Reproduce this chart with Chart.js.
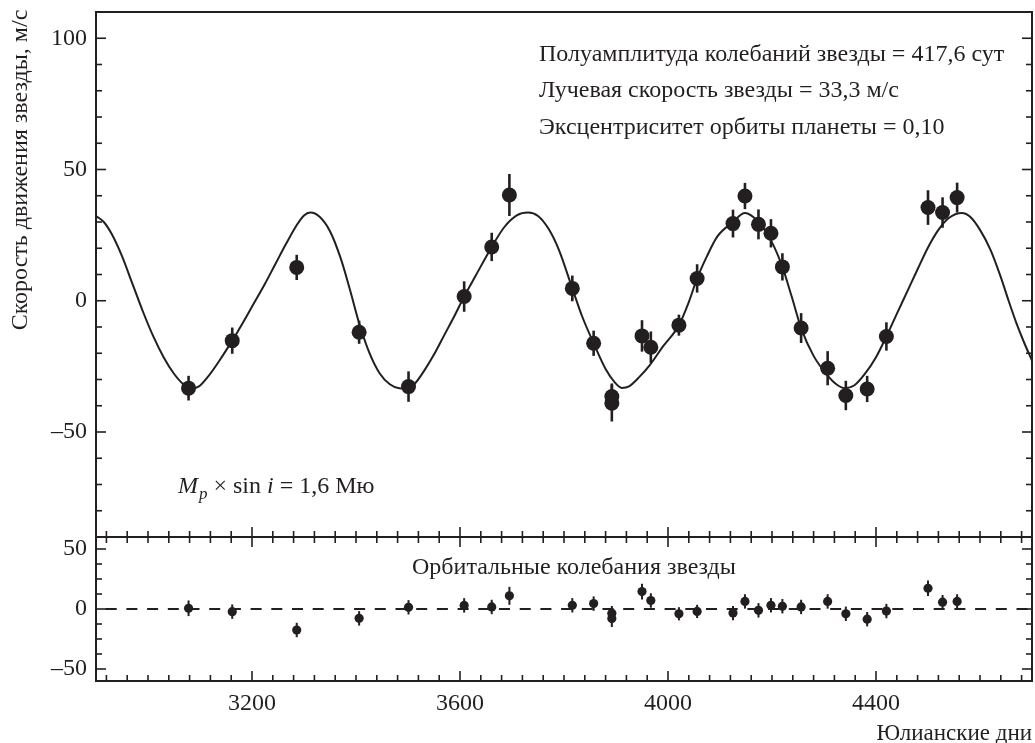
<!DOCTYPE html>
<html>
<head>
<meta charset="utf-8">
<script src="https://cdn.jsdelivr.net/npm/chart.js@4.4.1/dist/chart.umd.min.js"></script>
<style>
html,body{margin:0;padding:0;background:#fff;}
#wrap{position:relative;width:1035px;height:743px;}
canvas{display:block;}
</style>
</head>
<body>
<div id="wrap"><canvas id="c" width="1035" height="743"></canvas></div>
<script>
// ---- data ----
const obsDays = [3078, 3162, 3286, 3406, 3501, 3608, 3661, 3695, 3816, 3857, 3892, 3892, 3950, 3967, 4021, 4056, 4125, 4148, 4174, 4198, 4220, 4256, 4307, 4342, 4383, 4420, 4500, 4528, 4556];
const obsVel  = [-33.3, -15.2, 12.7, -12, -32.7, 1.6, 20.5, 40.3, 4.7, -16.2, -36.5, -39, -13.4, -17.7, -9.3, 8.5, 29.4, 39.9, 29.1, 25.7, 12.9, -10.4, -25.7, -36.1, -33.6, -13.6, 35.5, 33.6, 39.3];
const obsErr  = [4.7, 5, 4.8, 4.4, 5.8, 5.8, 5.4, 8, 4.9, 4.8, 5, 7, 6, 6, 4, 5.4, 5.3, 5, 5.7, 5.4, 5.2, 5.7, 6.5, 5.6, 5, 5.4, 6.6, 5.8, 5.7];

const resVel  = [0.6, -2.2, -17.5, -7.8, 1.4, 3, 1.7, 11, 3.1, 4.5, -3.5, -8, 14.5, 7.1, -4, -2, -3.4, 6.3, -1.1, 3.1, 2.3, 1.7, 6.3, -4, -8.5, -1.7, 17.3, 5.7, 6.3];
const resErr  = [6.5, 6, 6, 6, 6, 6, 6, 7.5, 6, 6, 6, 7, 6.5, 6, 5.5, 5.5, 6, 6, 6, 6, 6, 6, 6, 6, 6, 6, 6.5, 6, 6];

const curveDays = [2900, 2915, 2930, 2950, 2970, 2990, 3010, 3030, 3050, 3068, 3083, 3098, 3115, 3135, 3162, 3185, 3205, 3225, 3245, 3265, 3285, 3300, 3312, 3330, 3350, 3370, 3388, 3406, 3425, 3445, 3465, 3483, 3497, 3512, 3530, 3550, 3570, 3590, 3608, 3630, 3661, 3685, 3710, 3731, 3750, 3770, 3790, 3816, 3835, 3857, 3880, 3898, 3911, 3925, 3945, 3965, 3990, 4021, 4040, 4056, 4075, 4095, 4125, 4148, 4174, 4198, 4220, 4238, 4256, 4280, 4307, 4325, 4340, 4358, 4380, 4400, 4420, 4440, 4460, 4480, 4500, 4520, 4540, 4565, 4582, 4600, 4620, 4640, 4655, 4670, 4685, 4700];
const curveVel  = [32.3, 30, 25.5, 17, 6.5, -4, -13.5, -21.5, -27.8, -31.8, -33.4, -32.6, -29, -23.5, -15.2, -7.5, -0.5, 6.5, 14, 21.5, 28.5, 32.5, 33.6, 32, 26.5, 16.5, 4.5, -8.5, -19.5, -27.5, -31.8, -33.3, -33.4, -31.8, -27, -20.5, -13, -5.5, 1.6, 9.5, 20.5, 28, 32.6, 33.6, 32.3, 27.5, 19.5, 4.7, -6, -16.2, -26, -31.2, -33.2, -32.6, -29, -24.5, -17.5, -9.3, -0.5, 8.5, 17, 24.5, 30, 33.4, 30, 23, 12.9, 1.5, -10.4, -21, -28.5, -32, -33.3, -32.3, -27.5, -21.5, -13.6, -5, 3.5, 12, 20.3, 27, 31.5, 33.4, 31.8, 27, 19.5, 9, 0, -8.5, -16, -22.8];

const xTickLabels = [3200, 3600, 4000, 4400];
const yTopTicks = [100, 50, 0, -50];
const yBotTicks = [50, 0, -50];

const infoLines = [
  'Полуамплитуда колебаний звезды = 417,6 сут',
  'Лучевая скорость звезды = 33,3 м/с',
  'Эксцентриситет орбиты планеты = 0,10'
];
const residTitle = 'Орбитальные колебания звезды';
const yTitle = 'Скорость движения звезды, м/с';
const xTitle = 'Юлианские дни';

// ---- styling ----
const INK = '#231f20';
const FONT = 'Liberation Serif';
const FS = 24;
const fmt = v => (v < 0 ? '\u2013' + Math.abs(v) : String(v));

const toXY = (xs, ys) => xs.map((x, i) => ({x: x, y: ys[i]}));

const decor = {
  id: 'decor',
  afterDatasetsDraw(chart) {
    const ctx = chart.ctx;
    const sx = chart.scales.x, sy = chart.scales.y, sr = chart.scales.y2;
    ctx.save();
    ctx.strokeStyle = INK;
    ctx.lineCap = 'butt';
    ctx.beginPath();
    ctx.rect(sx.left, sy.top, sx.right - sx.left, sr.bottom - sy.top);
    ctx.clip();
    ctx.lineWidth = 2.6;
    obsDays.forEach((d, i) => {
      const px = sx.getPixelForValue(d);
      ctx.beginPath();
      ctx.moveTo(px, sy.getPixelForValue(obsVel[i] + obsErr[i]));
      ctx.lineTo(px, sy.getPixelForValue(obsVel[i] - obsErr[i]));
      ctx.stroke();
    });
    ctx.lineWidth = 2;
    obsDays.forEach((d, i) => {
      const px = sx.getPixelForValue(d);
      ctx.beginPath();
      ctx.moveTo(px, sr.getPixelForValue(resVel[i] + resErr[i]));
      ctx.lineTo(px, sr.getPixelForValue(resVel[i] - resErr[i]));
      ctx.stroke();
    });
    ctx.restore();
  },
  afterDraw(chart) {
    const ctx = chart.ctx;
    const sx = chart.scales.x, sy = chart.scales.y, sr = chart.scales.y2;
    const L = sx.left, R = sx.right;
    ctx.save();
    ctx.strokeStyle = INK;
    ctx.lineWidth = 2;
    ctx.strokeRect(L, sy.top, R - L, sy.bottom - sy.top);
    ctx.strokeRect(L, sr.top, R - L, sr.bottom - sr.top);

    ctx.lineWidth = 1.6;
    const tick = (x1, y1, x2, y2) => { ctx.beginPath(); ctx.moveTo(x1, y1); ctx.lineTo(x2, y2); ctx.stroke(); };
    for (let v = -80; v <= 100; v += 10) {
      const py = sy.getPixelForValue(v);
      const len = yTopTicks.includes(v) ? 10 : 6;
      tick(L, py, L + len, py);
      tick(R, py, R - len, py);
    }
    for (let v = -50; v <= 50; v += 12.5) {
      const py = sr.getPixelForValue(v);
      const len = yBotTicks.includes(v) ? 10 : 6;
      tick(L, py, L + len, py);
      tick(R, py, R - len, py);
    }
    for (let d = 2920; d <= 4680; d += 40) {
      const px = sx.getPixelForValue(d);
      const len = xTickLabels.includes(d) ? 10 : 6;
      tick(px, sy.bottom, px, sy.bottom - len);
      tick(px, sr.top, px, sr.top + len);
      tick(px, sr.bottom, px, sr.bottom - len);
    }

    ctx.fillStyle = INK;
    ctx.textBaseline = 'alphabetic';
    const F = (sz, it) => (it ? 'italic ' : '') + sz + 'px "' + FONT + '"';
    ctx.font = F(FS);
    ctx.textAlign = 'left';
    const infoBase = [61, 97, 134];
    infoLines.forEach((t, i) => ctx.fillText(t, 539, infoBase[i]));

    let x = 178; const b = 493;
    ctx.font = F(FS, true);
    ctx.fillText('M', x, b); x += ctx.measureText('M').width;
    ctx.font = F(17, true);
    ctx.fillText('p', x + 1, b + 6); x += ctx.measureText('p').width + 1;
    ctx.font = F(FS);
    const s1 = ' \u00d7 sin ';
    ctx.fillText(s1, x, b); x += ctx.measureText(s1).width;
    ctx.font = F(FS, true);
    ctx.fillText('i', x, b); x += ctx.measureText('i').width;
    ctx.font = F(FS);
    ctx.fillText(' = 1,6 Мю', x, b);

    ctx.textAlign = 'center';
    ctx.fillText(residTitle, 574, 574);

    ctx.textAlign = 'right';
    ctx.font = F(23);
    ctx.fillText(xTitle, 1032, 740);

    ctx.font = F(FS);
    ctx.save();
    ctx.translate(21, 170);
    ctx.rotate(-Math.PI / 2);
    ctx.textAlign = 'center';
    ctx.textBaseline = 'middle';
    ctx.fillText(yTitle, 0, 0);
    ctx.restore();
    ctx.restore();
  }
};

const tickFont = {family: FONT, size: FS};
const noPad = s => { s.paddingTop = 0; s.paddingBottom = 0; s.paddingLeft = 0; s.paddingRight = 0; };

new Chart(document.getElementById('c'), {
  type: 'scatter',
  data: {
    datasets: [
      {
        label: 'obs',
        data: toXY(obsDays, obsVel),
        yAxisID: 'y',
        pointRadius: 7.5,
        pointBackgroundColor: INK,
        pointBorderWidth: 0,
        pointHoverRadius: 7.5,
        order: 1
      },
      {
        label: 'resid',
        data: toXY(obsDays, resVel),
        yAxisID: 'y2',
        pointRadius: 4.6,
        pointBackgroundColor: INK,
        pointBorderWidth: 0,
        order: 1
      },
      {
        label: 'model',
        type: 'line',
        data: toXY(curveDays, curveVel),
        yAxisID: 'y',
        borderColor: INK,
        borderWidth: 2,
        pointRadius: 0,
        cubicInterpolationMode: 'monotone',
        fill: false,
        order: 2
      },
      {
        label: 'zero',
        type: 'line',
        data: [{x: 2900, y: 0}, {x: 4700, y: 0}],
        yAxisID: 'y2',
        borderColor: INK,
        borderWidth: 2,
        borderDash: [11, 9.7],
        borderDashOffset: 11,
        pointRadius: 0,
        fill: false,
        order: 3
      }
    ]
  },
  options: {
    responsive: false,
    animation: false,
    devicePixelRatio: 1,
    layout: {autoPadding: false, padding: {left: 0, right: 3, top: 12, bottom: 0}},
    plugins: {legend: {display: false}, tooltip: {enabled: false}, title: {display: false}},
    scales: {
      x: {
        type: 'linear', position: 'bottom', min: 2900, max: 4700,
        grid: {display: false, drawTicks: false}, border: {display: false},
        afterBuildTicks: s => { s.ticks = xTickLabels.map(v => ({value: v})); },
        afterFit: s => { s.height = 62; noPad(s); },
        ticks: {font: tickFont, color: INK, padding: 8, maxRotation: 0, autoSkip: false, callback: v => String(v)}
      },
      y2: {
        type: 'linear', position: 'left', min: -60, max: 60,
        stack: 'v', stackWeight: 144,
        grid: {display: false, drawTicks: false}, border: {display: false},
        afterBuildTicks: s => { s.ticks = yBotTicks.map(v => ({value: v})); },
        afterFit: s => { s.width = 96; noPad(s); },
        ticks: {font: tickFont, color: INK, padding: 9, autoSkip: false, callback: fmt}
      },
      y: {
        type: 'linear', position: 'left', min: -90, max: 110,
        stack: 'v', stackWeight: 525,
        grid: {display: false, drawTicks: false}, border: {display: false},
        afterBuildTicks: s => { s.ticks = yTopTicks.map(v => ({value: v})); },
        afterFit: s => { s.width = 96; noPad(s); },
        ticks: {font: tickFont, color: INK, padding: 9, autoSkip: false, callback: fmt}
      }
    }
  },
  plugins: [decor]
});
</script>
</body>
</html>
